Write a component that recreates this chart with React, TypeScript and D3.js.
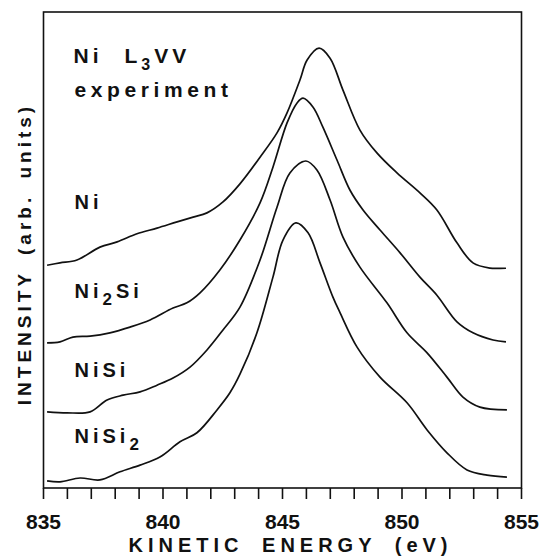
import { scaleLinear, line, curveCatmullRom, range } from "d3";

// kinetic energy (eV) and intensity (arb. units)
const niData = [
  [835.15, 46.8], [835.69, 47.3], [836.4, 47.9], [837.36, 50.6], [838.08, 51.7],
  [838.91, 53.4], [839.75, 54.6], [840.59, 55.9], [841.26, 56.9], [841.84, 57.8],
  [842.51, 60.1], [843.22, 63.9], [844.06, 69.5], [844.77, 74.6], [845.19, 78.8],
  [845.73, 85.7], [846.03, 89.9], [846.53, 92.4], [846.99, 90.3], [847.53, 83.6],
  [848.24, 75.2], [848.95, 70.4], [849.79, 66.2], [850.75, 62.0], [851.46, 58.4],
  [852.3, 51.5], [852.97, 47.3], [853.68, 46.2], [854.35, 46.2],
];

const ni2SiData = [
  [835.15, 30.5], [835.69, 30.7], [836.23, 31.7], [836.95, 31.9], [837.78, 32.6],
  [838.62, 33.8], [839.46, 35.3], [840.42, 37.8], [841.0, 38.9], [841.55, 41.0],
  [842.38, 45.8], [843.22, 52.1], [844.06, 59.9], [844.6, 67.4], [845.19, 76.7],
  [845.61, 80.9], [845.86, 81.9], [846.28, 80.0], [846.69, 75.8], [847.28, 68.9],
  [847.82, 62.6], [848.37, 58.4], [849.08, 54.2], [849.92, 49.4], [850.75, 44.3],
  [851.46, 40.5], [852.3, 34.9], [852.97, 32.6], [853.81, 31.1], [854.35, 30.7],
];

const niSiData = [
  [835.15, 16.0], [835.98, 15.8], [836.95, 16.0], [837.66, 18.5], [838.33, 19.5],
  [839.04, 20.2], [839.75, 21.6], [840.42, 23.1], [841.13, 25.4], [841.84, 29.0],
  [842.51, 33.2], [843.22, 38.0], [844.06, 47.9], [844.77, 59.0], [845.31, 66.2],
  [845.98, 68.7], [846.44, 66.8], [846.99, 60.5], [847.53, 52.7], [848.24, 46.4],
  [849.37, 38.9], [850.21, 32.6], [851.05, 28.4], [851.88, 23.3], [852.55, 19.1],
  [853.26, 17.0], [854.39, 16.4],
];

const niSi2Data = [
  [835.15, 1.5], [835.69, 1.3], [836.53, 2.1], [837.36, 1.7], [838.2, 3.4],
  [839.04, 4.8], [839.87, 6.5], [840.71, 9.7], [841.42, 11.6], [842.26, 16.4],
  [842.8, 20.0], [843.22, 23.9], [843.93, 32.6], [844.6, 44.3], [845.02, 52.1],
  [845.56, 55.7], [846.07, 53.6], [846.57, 47.3], [847.11, 40.1], [847.41, 36.8],
  [848.12, 29.6], [849.08, 23.3], [850.21, 17.9], [851.05, 12.2], [851.88, 7.4],
  [852.72, 3.8], [853.56, 2.7], [854.39, 2.3],
];

const series = [niData, ni2SiData, niSiData, niSi2Data];
const majorTicks = [835, 840, 845, 850, 855];

const width = 539;
const height = 556;
const margin = { top: 12, right: 17.5, bottom: 68, left: 43.5 };
const innerWidth = width - margin.left - margin.right;
const innerHeight = height - margin.top - margin.bottom;

const font = "'Liberation Sans', Arial, Helvetica, sans-serif";

const App = () => {
  const xScale = scaleLinear().domain([835, 855]).range([0, innerWidth]);
  const yScale = scaleLinear().domain([0, 100]).range([innerHeight, 0]);

  const lineGen = line<number[]>()
    .x((d) => xScale(d[0]))
    .y((d) => yScale(d[1]))
    .curve(curveCatmullRom.alpha(0.5));

  const labelStyle = {
    fontFamily: font,
    fontWeight: 700,
    fontSize: 20,
    letterSpacing: 4,
  };

  return (
    <svg
      width={width}
      height={height}
      style={{ position: "absolute", left: 0, top: 0, background: "#fff" }}
    >
      <g transform={`translate(${margin.left},${margin.top})`}>
        <rect
          x={0}
          y={0}
          width={innerWidth}
          height={innerHeight}
          fill="none"
          stroke="#111"
          strokeWidth={1.6}
        />
        {range(835, 856).map((t) => (
          <line
            key={t}
            x1={xScale(t)}
            x2={xScale(t)}
            y1={innerHeight}
            y2={innerHeight + 11}
            stroke="#111"
            strokeWidth={1.6}
          />
        ))}
        {majorTicks.map((t) => (
          <text
            key={t}
            x={xScale(t)}
            y={innerHeight + 41}
            textAnchor="middle"
            fontFamily={font}
            fontWeight={700}
            fontSize={21}
            fill="#111"
          >
            {t}
          </text>
        ))}
        {series.map((s, i) => (
          <path
            key={i}
            d={lineGen(s) || ""}
            fill="none"
            stroke="#111"
            strokeWidth={1.7}
          />
        ))}

        <text x={30} y={51} style={{ ...labelStyle, fontSize: 21 }} fill="#111">
          Ni
          <tspan dx={22}>L</tspan>
          <tspan dy={7} fontSize={16}>3</tspan>
          <tspan dy={-7}>VV</tspan>
        </text>
        <text
          x={31}
          y={85}
          style={{ ...labelStyle, fontSize: 21, letterSpacing: 4.6 }}
          fill="#111"
        >
          experiment
        </text>
        <text x={31} y={197} style={labelStyle} fill="#111">
          Ni
        </text>
        <text x={31} y={286} style={labelStyle} fill="#111">
          Ni
          <tspan dy={7} fontSize={17}>2</tspan>
          <tspan dy={-7}>Si</tspan>
        </text>
        <text x={31} y={365} style={labelStyle} fill="#111">
          NiSi
        </text>
        <text x={31} y={431} style={labelStyle} fill="#111">
          NiSi
          <tspan dy={7} fontSize={17}>2</tspan>
        </text>
      </g>

      <text
        x={margin.left + innerWidth / 2 + 8}
        y={552}
        textAnchor="middle"
        fontFamily={font}
        fontWeight={700}
        fontSize={20}
        letterSpacing={5}
        wordSpacing={8}
        fill="#111"
      >
        KINETIC ENERGY (eV)
      </text>
      <text
        transform={`translate(31,254) rotate(-90)`}
        textAnchor="middle"
        fontFamily={font}
        fontWeight={700}
        fontSize={19}
        letterSpacing={4}
        wordSpacing={6}
        fill="#111"
      >
        INTENSITY (arb. units)
      </text>
    </svg>
  );
};

export default App;
